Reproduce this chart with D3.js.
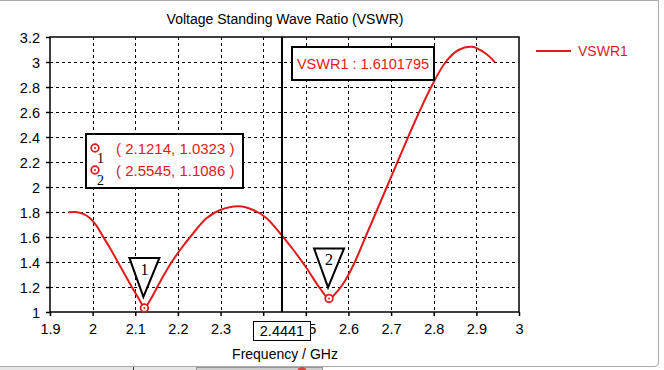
<!DOCTYPE html>
<html lang="en">

<head>
  <meta charset="UTF-8">
  <title>VSWR</title>
  <style>
    body {
      margin: 0;
      background: #fff;
    }

    #chart text {
      font-family: "Liberation Sans", Arial, sans-serif;
    }
  </style>
</head>

<body>
  <div id="chart"></div>
  <script src="https://cdn.jsdelivr.net/npm/d3@7/dist/d3.min.js"></script>
  <script>
    // curve (GHz, VSWR)
    const freq = [1.943, 1.96, 1.978, 1.994, 2.008, 2.025, 2.041, 2.064, 2.092, 2.111, 2.1214, 2.135, 2.158, 2.181,
      2.205, 2.236, 2.267, 2.299, 2.343, 2.377, 2.408, 2.4441, 2.471, 2.502, 2.533, 2.5545, 2.57, 2.592, 2.615,
      2.64, 2.665, 2.69, 2.715, 2.74, 2.766, 2.794, 2.828, 2.858, 2.89, 2.921, 2.943];
    const vswr = [1.798, 1.8, 1.785, 1.75, 1.695, 1.6, 1.51, 1.37, 1.2, 1.09, 1.0323, 1.096, 1.24, 1.376,
      1.496, 1.63, 1.75, 1.816, 1.846, 1.816, 1.75, 1.6102, 1.496, 1.35, 1.19, 1.1086, 1.15, 1.25, 1.4,
      1.6, 1.8, 2.0, 2.2, 2.4, 2.6, 2.8, 3.0, 3.096, 3.122, 3.07, 3.0];

    const xTicks = [1.9, 2, 2.1, 2.2, 2.3, 2.4, 2.5, 2.6, 2.7, 2.8, 2.9, 3];
    const yTicks = [1, 1.2, 1.4, 1.6, 1.8, 2, 2.2, 2.4, 2.6, 2.8, 3, 3.2];

    const markerIds = ['1', '2'];
    const markerFreq = [2.1214, 2.5545];
    const markerVswr = [1.0323, 1.1086];

    const cursorFreq = 2.4441;
    const cursorValue = '1.6101795';
    const seriesName = 'VSWR1';

    const red = '#e01b1b';
    const W = 664, H = 370;

    const svg = d3.select('#chart').append('svg')
      .attr('width', W)
      .attr('height', H);

    // window chrome round the plot
    svg.append('path')
      .attr('d', 'M0,0.5 H658.5 V362 Q658.5,366.5 654,366.5 H0')
      .attr('fill', 'none')
      .attr('stroke', '#a9a9a9');
    svg.append('rect').attr('x', 0).attr('y', 367).attr('width', 196).attr('height', 3).attr('fill', '#e6e6e6');
    svg.append('line').attr('x1', 133.5).attr('x2', 133.5).attr('y1', 367).attr('y2', 370).attr('stroke', '#333');
    svg.append('rect').attr('x', 196.5).attr('y', 367.5).attr('width', 126).attr('height', 4)
      .attr('fill', '#cfcfcf').attr('stroke', '#999');
    svg.append('circle').attr('cx', 302).attr('cy', 372).attr('r', 5).attr('fill', '#e04040');

    const x = d3.scaleLinear().domain([1.9, 3]).range([50, 519]);
    const y = d3.scaleLinear().domain([1, 3.2]).range([312, 37]);

    // title
    svg.append('text')
      .attr('x', 285)
      .attr('y', 24)
      .attr('text-anchor', 'middle')
      .style('font-size', '14px')
      .text('Voltage Standing Wave Ratio (VSWR)');

    // dashed grid
    const grid = svg.append('g')
      .attr('stroke', '#000')
      .attr('stroke-width', 1)
      .attr('stroke-dasharray', '3,3');
    grid.selectAll('.gx')
      .data(xTicks.slice(1, -1))
      .join('line')
      .attr('x1', d => Math.round(x(d)) + 0.5)
      .attr('x2', d => Math.round(x(d)) + 0.5)
      .attr('y1', y(3.2))
      .attr('y2', y(1));
    grid.selectAll('.gy')
      .data(yTicks.slice(1, -1))
      .join('line')
      .attr('x1', x(1.9))
      .attr('x2', x(3))
      .attr('y1', d => Math.round(y(d)) + 0.5)
      .attr('y2', d => Math.round(y(d)) + 0.5);

    // axes
    const fmt = d => String(d);
    const xAxis = svg.append('g')
      .attr('transform', `translate(0,${y(1)})`)
      .call(d3.axisBottom(x).tickValues(xTicks).tickFormat(fmt).tickSize(4).tickSizeOuter(0).tickPadding(8));
    const yAxis = svg.append('g')
      .attr('transform', `translate(${x(1.9)},0)`)
      .call(d3.axisLeft(y).tickValues(yTicks).tickFormat(fmt).tickSize(4).tickSizeOuter(0).tickPadding(6));
    [xAxis, yAxis].forEach(a => {
      a.select('.domain').remove();
      a.selectAll('line').attr('stroke', '#000').attr('stroke-width', 1.5);
      a.selectAll('text')
        .attr('fill', '#000')
        .style('font-size', '14.5px');
    });
    yAxis.selectAll('text').attr('dy', '0.35em');

    // plot frame
    svg.append('rect')
      .attr('x', x(1.9))
      .attr('y', y(3.2))
      .attr('width', x(3) - x(1.9))
      .attr('height', y(1) - y(3.2))
      .attr('fill', 'none')
      .attr('stroke', '#000')
      .attr('stroke-width', 1.5);

    svg.append('text')
      .attr('x', 285)
      .attr('y', 359)
      .attr('text-anchor', 'middle')
      .style('font-size', '14px')
      .text('Frequency / GHz');

    // the curve
    const line = d3.line()
      .x((d, i) => x(freq[i]))
      .y(d => y(d))
      .curve(d3.curveCatmullRom);
    svg.append('path')
      .datum(vswr)
      .attr('d', line)
      .attr('fill', 'none')
      .attr('stroke', red)
      .attr('stroke-width', 2);

    // cursor line and its labels
    svg.append('line')
      .attr('x1', x(cursorFreq))
      .attr('x2', x(cursorFreq))
      .attr('y1', y(3.2))
      .attr('y2', y(1))
      .attr('stroke', '#000')
      .attr('stroke-width', 2);

    const cx = x(cursorFreq);
    svg.append('rect')
      .attr('x', cx - 28.5)
      .attr('y', 321.5)
      .attr('width', 57)
      .attr('height', 19)
      .attr('fill', '#fff')
      .attr('stroke', '#000');
    svg.append('text')
      .attr('x', cx)
      .attr('y', 336)
      .attr('text-anchor', 'middle')
      .style('font-size', '14.5px')
      .text(cursorFreq);

    svg.append('rect')
      .attr('x', 292)
      .attr('y', 47)
      .attr('width', 142)
      .attr('height', 33)
      .attr('fill', '#fff')
      .attr('stroke', '#000')
      .attr('stroke-width', 2);
    svg.append('text')
      .attr('x', 363)
      .attr('y', 69)
      .attr('text-anchor', 'middle')
      .attr('fill', red)
      .style('font-size', '14.5px')
      .text(`${seriesName} : ${cursorValue}`);

    // marker table
    svg.append('rect')
      .attr('x', 86)
      .attr('y', 134)
      .attr('width', 157)
      .attr('height', 54)
      .attr('fill', '#fff')
      .attr('stroke', '#000')
      .attr('stroke-width', 2);

    function ring(g, px, py) {
      g.append('circle').attr('cx', px).attr('cy', py).attr('r', 3.8)
        .attr('fill', '#fff').attr('stroke', red).attr('stroke-width', 1.8);
      g.append('circle').attr('cx', px).attr('cy', py).attr('r', 1).attr('fill', red);
    }

    const table = svg.append('g');
    markerIds.forEach((id, i) => {
      const ry = 148 + i * 22;
      ring(table, 95, ry);
      table.append('text')
        .attr('x', 97)
        .attr('y', ry + 15)
        .style('font-family', '"Liberation Serif", serif')
        .style('font-size', '14px')
        .text(id);
      table.append('text')
        .attr('x', 116)
        .attr('y', ry + 6)
        .attr('fill', red)
        .style('font-size', '15px')
        .text(`( ${markerFreq[i]}, ${markerVswr[i]} )`);
    });

    // markers on the curve
    const marks = svg.append('g');
    markerIds.forEach((id, i) => {
      const px = x(markerFreq[i]);
      const py = y(markerVswr[i]);
      marks.append('path')
        .attr('d', `M${px - 15},${py - 50} H${px + 15} L${px - 1},${py - 11} Z`)
        .attr('fill', '#fff')
        .attr('stroke', '#000')
        .attr('stroke-width', 2);
      marks.append('text')
        .attr('x', px)
        .attr('y', py - 33)
        .attr('text-anchor', 'middle')
        .style('font-family', '"Liberation Serif", serif')
        .style('font-size', '16px')
        .text(id);
      ring(marks, px, py);
    });

    // legend
    svg.append('line')
      .attr('x1', 536)
      .attr('x2', 571)
      .attr('y1', 51)
      .attr('y2', 51)
      .attr('stroke', red)
      .attr('stroke-width', 2);
    svg.append('text')
      .attr('x', 578)
      .attr('y', 56)
      .attr('fill', red)
      .style('font-size', '14px')
      .text(seriesName);
  </script>
</body>

</html>
